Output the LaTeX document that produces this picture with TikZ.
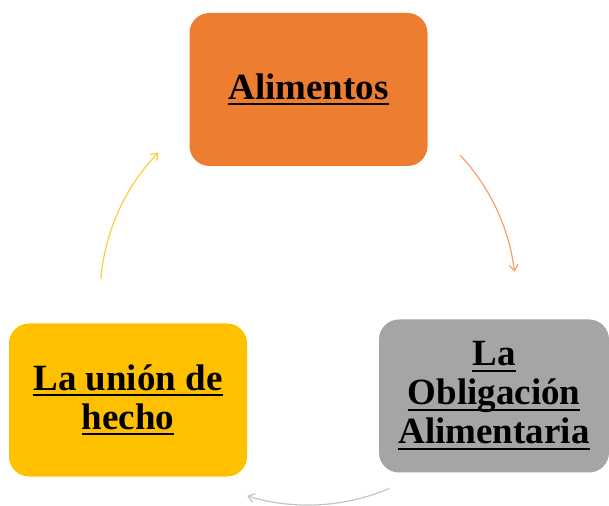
\documentclass[tikz,border=0pt]{standalone}
\usepackage{fontspec}
\setmainfont{Liberation Serif}
\usetikzlibrary{arrows.meta}

\definecolor{boxorange}{HTML}{ED7D31}
\definecolor{boxgrey}{HTML}{A5A5A5}
\definecolor{boxyellow}{HTML}{FFC000}
\definecolor{arcorange}{HTML}{F4A06A}
\definecolor{arcgrey}{HTML}{C3C3C3}
\definecolor{arcyellow}{HTML}{FFCD3C}

% underlined line of box text
\newcommand{\ulline}[1]{\setbox0\hbox{#1}\rlap{\rule[-0.17em]{\wd0}{0.055em}}\box0}

\tikzset{
  stage/.style={rounded corners=20pt, minimum width=238pt, minimum height=153pt,
    align=center, inner sep=0pt, text=black,
    font=\fontsize{37}{39}\selectfont\bfseries},
  cyc/.style={line width=1.2pt, -{Straight Barb[length=6pt,width=9pt]}}
}

\begin{document}
\begin{tikzpicture}[x=1pt, y=1pt]
            \useasboundingbox (0,0) rectangle (609,505);
            \node[stage, fill=boxorange] (alim) at (308.5, 415.5) {\ulline{Alimentos}};
            \node[stage, fill=boxgrey, minimum width=230pt] (oblig) at (494, 109) {\ulline{La}\\\ulline{Obligación}\\\ulline{Alimentaria}};
            \node[stage, fill=boxyellow] (union) at (128, 105) {\ulline{La unión de}\\\ulline{hecho}};
            \coordinate (ring) at (308, 208);
            \draw[cyc, arcorange] ([shift={(43:208)}]ring) arc[start angle=43, end angle=7, radius=208];
            \draw[cyc, arcgrey] ([shift={(-67:208)}]ring) arc[start angle=-67, end angle=-107, radius=208];
            \draw[cyc, arcyellow] ([shift={(175:208)}]ring) arc[start angle=175, end angle=136, radius=208];
        \end{tikzpicture}
\end{document}
